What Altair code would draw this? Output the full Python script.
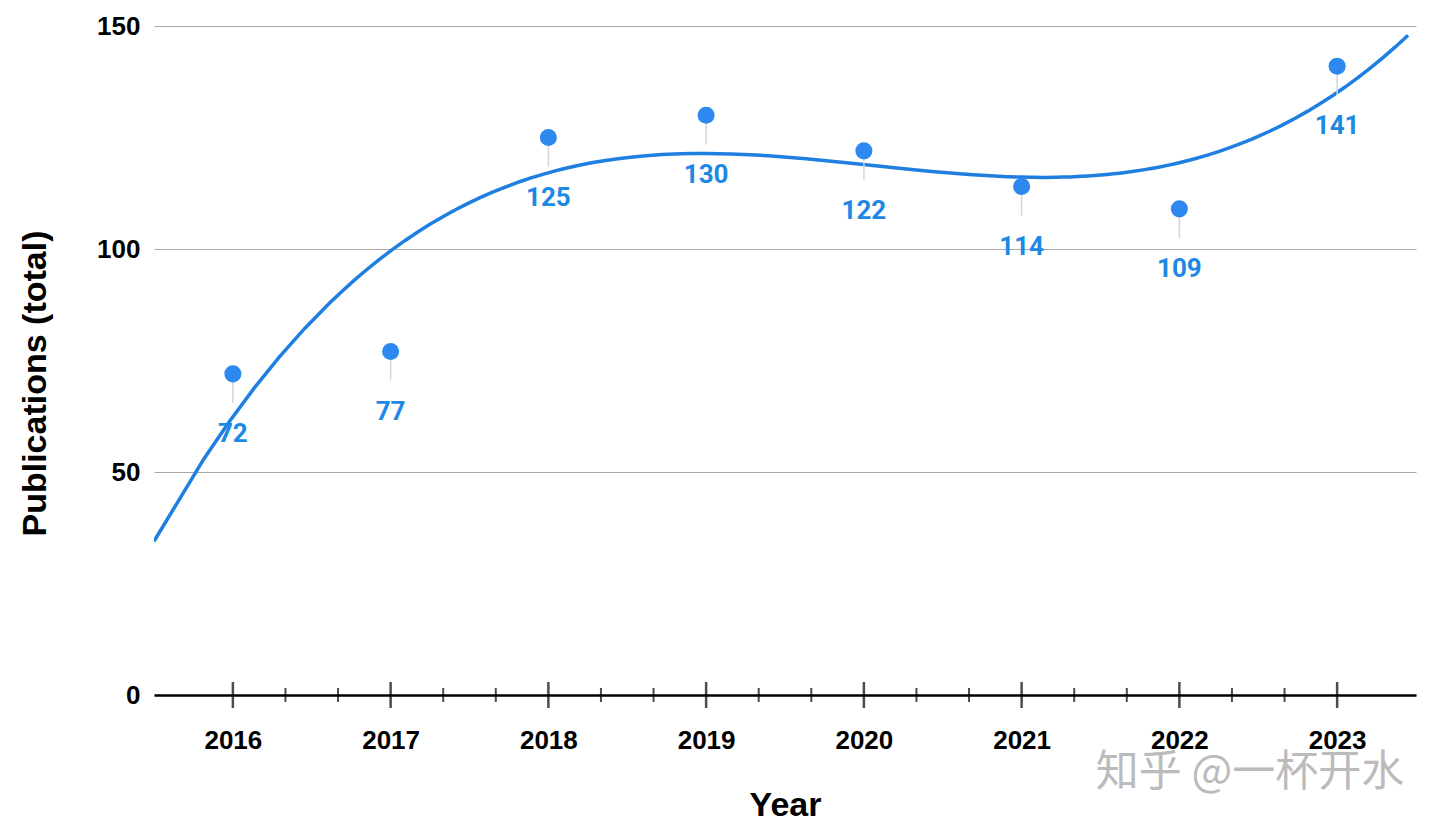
import altair as alt
import pandas as pd

years = [2016, 2017, 2018, 2019, 2020, 2021, 2022, 2023]
pubs = [72, 77, 125, 130, 122, 114, 109, 141]
minor_ticks = [y + f for y in range(2016, 2023) for f in (1 / 3, 2 / 3)]
y_ticks = [0, 50, 100, 150]

df = pd.DataFrame({"year": years, "pubs": pubs})
df_minor = pd.DataFrame({"year": minor_ticks})

W, H = 1262, 669
xscale = alt.Scale(domain=[2015.5, 2023.5], nice=False, zero=False)
yscale = alt.Scale(domain=[0, 150], nice=False)

xaxis = alt.Axis(
    values=years, format="d", title="Year", grid=False, ticks=False, tickSize=0,
    domainColor="#000000", domainWidth=2.5, labelFont="Liberation Sans",
    labelFontSize=26, labelFontWeight="bold", labelColor="#000000", labelPadding=32,
    titleFont="Liberation Sans", titleFontSize=34, titleFontWeight="bold",
    titleColor="#000000", titleX=W / 2, titleY=110, titleBaseline="middle",
    titleAlign="center",
)
yaxis = alt.Axis(
    values=y_ticks, title="Publications (total)", grid=True, gridColor="#a8a8a8",
    gridWidth=1, domain=False, ticks=False, tickSize=0, labelFont="Liberation Sans",
    labelFontSize=26, labelFontWeight="bold", labelColor="#000000", labelPadding=14,
    titleFont="Liberation Sans", titleFontSize=34, titleFontWeight="bold",
    titleColor="#000000", titleX=-119, titleY=357, titleBaseline="middle",
    titleAlign="center",
)

base = alt.Chart(df)

trend = base.transform_regression(
    "year", "pubs", method="poly", order=3, extent=[2015.5, 2023.45]
).mark_line(color="#1E7FE0", strokeWidth=3.5, clip=True).encode(
    x=alt.X("year:Q", scale=xscale, axis=xaxis),
    y=alt.Y("pubs:Q", scale=yscale, axis=yaxis),
)

leaders = base.mark_rule(color="#d6d6d6", strokeWidth=1.5, y2Offset=29).encode(
    x="year:Q", y="pubs:Q", y2="pubs:Q"
)

points = base.mark_circle(size=290, color="#2D89EF", opacity=1).encode(
    x="year:Q", y="pubs:Q"
)

labels = base.mark_text(
    dy=60, font="Roboto", fontSize=26, fontWeight="bold", color="#1E88E5",
    baseline="middle", align="center",
).encode(x="year:Q", y="pubs:Q", text="pubs:Q")

major = base.mark_tick(orient="vertical", size=26, thickness=2.5, color="#000000").encode(
    x="year:Q", y=alt.datum(0)
)
minor = alt.Chart(df_minor).mark_tick(
    orient="vertical", size=14, thickness=2, color="#000000"
).encode(x="year:Q", y=alt.datum(0))

watermark = alt.Chart(pd.DataFrame({"t": ["知乎 @一杯开水"]})).mark_text(
    font="Noto Sans CJK SC", fontSize=43, color="#b0b0b0", align="center",
    baseline="middle", opacity=0.85,
).encode(x=alt.value(1096), y=alt.value(747), text="t:N")

chart = alt.layer(trend, leaders, minor, major, points, labels, watermark).properties(
    width=W, height=H,
    autosize=alt.AutoSizeParams(type="none"),
    padding={"left": 146, "top": 18, "right": 16, "bottom": 126},
).configure(background="#ffffff").configure_view(stroke=None, strokeWidth=0)

chart.save("out.html", embed_options={"renderer": "svg", "actions": False})
